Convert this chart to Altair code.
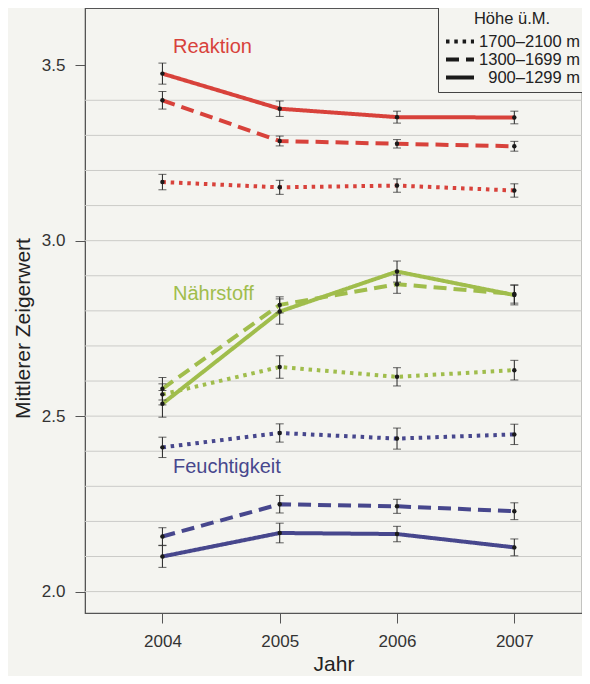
import altair as alt
import pandas as pd

years = [2004, 2005, 2006, 2007]
indicators = ["Reaktion", "Nährstoff", "Feuchtigkeit"]
elevations = ["1700–2100 m", "1300–1699 m", "900–1299 m"]

# mean values per indicator and elevation band
reaktion_high = [3.167, 3.152, 3.157, 3.143]
reaktion_mid = [3.400, 3.284, 3.276, 3.269]
reaktion_low = [3.476, 3.376, 3.352, 3.351]
naehr_high = [2.562, 2.640, 2.612, 2.631]
naehr_mid = [2.578, 2.817, 2.876, 2.848]
naehr_low = [2.535, 2.798, 2.912, 2.845]
feucht_high = [2.411, 2.452, 2.436, 2.448]
feucht_mid = [2.157, 2.249, 2.243, 2.229]
feucht_low = [2.100, 2.167, 2.164, 2.126]

# standard errors
reaktion_high_se = [0.022, 0.020, 0.019, 0.019]
reaktion_mid_se = [0.025, 0.014, 0.012, 0.014]
reaktion_low_se = [0.030, 0.022, 0.017, 0.018]
naehr_high_se = [0.030, 0.032, 0.026, 0.028]
naehr_mid_se = [0.032, 0.023, 0.026, 0.026]
naehr_low_se = [0.038, 0.036, 0.030, 0.028]
feucht_high_se = [0.029, 0.026, 0.030, 0.029]
feucht_mid_se = [0.025, 0.025, 0.020, 0.024]
feucht_low_se = [0.031, 0.028, 0.022, 0.024]

series = [
    ("Reaktion", "1700–2100 m", reaktion_high, reaktion_high_se),
    ("Reaktion", "1300–1699 m", reaktion_mid, reaktion_mid_se),
    ("Reaktion", "900–1299 m", reaktion_low, reaktion_low_se),
    ("Nährstoff", "1700–2100 m", naehr_high, naehr_high_se),
    ("Nährstoff", "1300–1699 m", naehr_mid, naehr_mid_se),
    ("Nährstoff", "900–1299 m", naehr_low, naehr_low_se),
    ("Feuchtigkeit", "1700–2100 m", feucht_high, feucht_high_se),
    ("Feuchtigkeit", "1300–1699 m", feucht_mid, feucht_mid_se),
    ("Feuchtigkeit", "900–1299 m", feucht_low, feucht_low_se),
]

rows = []
for ind, elev, vals, ses in series:
    for yr, v, s in zip(years, vals, ses):
        rows.append({"index": ind, "elev": elev, "year": yr, "value": v,
                     "lo": v - s, "hi": v + s})
df = pd.DataFrame(rows)

# labels for the indicator groups
label_x = [2004.09, 2004.09, 2004.09]
label_y = [3.551, 2.849, 2.354]
labels_df = pd.DataFrame({"index": indicators, "x": label_x, "y": label_y})

grid_values = [2.0, 2.1, 2.2, 2.3, 2.4, 2.5, 2.6, 2.7, 2.8, 2.9, 3.0, 3.1, 3.2, 3.3, 3.4]
grid_df = pd.DataFrame({"g": grid_values})

colors = ["#d8423b", "#a0bd4c", "#47478d"]
color_scale = alt.Scale(domain=indicators, range=colors)

xscale = alt.Scale(domain=[2003.34, 2007.577], nice=False, zero=False)
yscale = alt.Scale(domain=[1.939, 3.663], nice=False, zero=False)

x_axis = alt.Axis(values=years, format="d", title="Jahr", grid=False,
                  labelPadding=10, titlePadding=4)
y_axis = alt.Axis(values=[2.0, 2.5, 3.0, 3.5], format=".1f", grid=False,
                  title="Mittlerer Zeigerwert", labelPadding=10, titlePadding=8,
                  titleY=320)

grid = alt.Chart(grid_df).mark_rule(color="#cbcbc8", strokeWidth=1).encode(
    y=alt.Y("g:Q", scale=yscale, axis=y_axis)
)

lines = alt.Chart(df).mark_line(strokeWidth=4).encode(
    x=alt.X("year:Q", scale=xscale, axis=x_axis),
    y=alt.Y("value:Q", scale=yscale, axis=y_axis),
    color=alt.Color("index:N", scale=color_scale, legend=None),
    strokeDash=alt.StrokeDash(
        "elev:N",
        scale=alt.Scale(domain=elevations, range=[[3.5, 4.8], [13, 7], [1, 0]]),
        legend=alt.Legend(
            title="Höhe ü.M.", orient="none", legendX=353, legendY=-3,
            direction="vertical", symbolType="M-1,0L3,0", symbolSize=196,
            symbolStrokeColor="#1a1a1a", symbolStrokeWidth=4,
            labelFontSize=16.5, labelColor="#222", titleFontSize=16.5,
            titleFontWeight="normal", titleColor="#222", titleAnchor="middle",
            padding=6, strokeColor="#444", fillColor="#f4f4f0",
            labelAlign="right", labelOffset=118, labelLimit=200,
            titlePadding=5, rowPadding=-1,
        ),
    ),
    detail="index:N",
)

bars = alt.Chart(df).mark_rule(color="#222", strokeWidth=1).encode(
    x="year:Q", y="lo:Q", y2="hi:Q"
)
caps_lo = alt.Chart(df).mark_tick(color="#222", thickness=1, size=8,
                                  orient="horizontal").encode(x="year:Q", y="lo:Q")
caps_hi = alt.Chart(df).mark_tick(color="#222", thickness=1, size=8,
                                  orient="horizontal").encode(x="year:Q", y="hi:Q")
points = alt.Chart(df).mark_circle(color="#1a1a1a", size=20, opacity=1).encode(
    x="year:Q", y="value:Q"
)

texts = alt.Chart(labels_df).mark_text(align="left", baseline="middle",
                                       fontSize=20).encode(
    x=alt.X("x:Q", scale=xscale),
    y=alt.Y("y:Q", scale=yscale),
    text="index:N",
    color=alt.Color("index:N", scale=color_scale, legend=None),
)

chart = alt.layer(grid, lines, bars, caps_lo, caps_hi, points, texts).properties(
    width=497, height=605,
    autosize=alt.AutoSizeParams(type="none"),
    padding={"left": 77, "top": 0, "right": 0, "bottom": 63},
    background="#f4f4f0",
).configure(font="Liberation Sans").configure_axis(
    domainColor="#555", tickColor="#555", tickSize=10, labelColor="#333",
    labelFontSize=17, titleFontSize=21, titleFontWeight="normal",
    titleColor="#222",
).configure_view(stroke="#555", strokeWidth=1.2)

chart.save("out.html", embed_options={"renderer": "svg", "actions": False})
